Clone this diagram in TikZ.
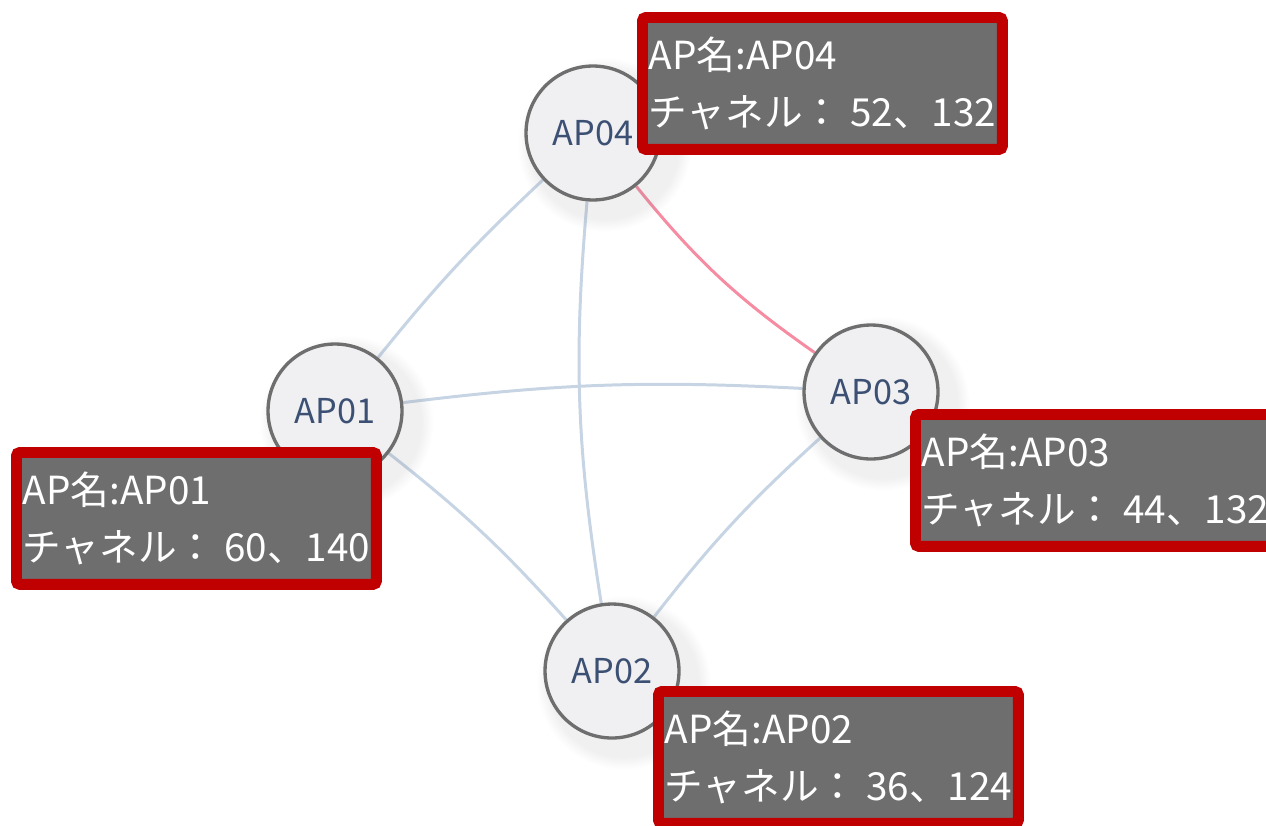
\documentclass[tikz,border=0pt]{standalone}
\usepackage{fontspec}
\newfontfamily\jpfont{Noto Sans CJK JP}
\usetikzlibrary{shadows,backgrounds}
\definecolor{tipred}{RGB}{192,0,0}
\definecolor{tipgray}{RGB}{110,110,110}
\definecolor{apfill}{RGB}{240,240,243}
\definecolor{apline}{RGB}{110,110,110}
\definecolor{aptext}{RGB}{60,80,115}
\definecolor{linkblue}{RGB}{198,212,228}
\definecolor{linkred}{RGB}{245,140,162}
\tikzstyle{ap}=[circle, draw=apline, fill=apfill, line width=1.9pt, minimum size=2.68cm, inner sep=0pt, text=aptext, font=\jpfont\fontsize{19.5}{22}\selectfont, circular drop shadow={shadow xshift=5pt, shadow yshift=-5pt, shadow scale=1.3, opacity=0.12}]
\tikzstyle{tip}=[rectangle, draw=tipred, fill=tipgray, line width=6.2pt, rounded corners=2pt, minimum width=7.2cm, minimum height=2.64cm, text=white, align=left, anchor=north west, font=\jpfont\fontsize{22}{32}\selectfont]
\tikzstyle{link}=[draw=linkblue, line width=1.7pt]
\tikzstyle{hot}=[draw=linkred, line width=1.7pt]

\begin{document}
\begin{tikzpicture}[x=0.02cm, y=-0.02cm]
		\useasboundingbox (0,0) rectangle (1266,825);
		\clip (0,0) rectangle (1266,825);

		\node (ap04) [ap] at (593,133) {AP04};
		\node (ap01) [ap] at (335,411) {AP01};
		\node (ap03) [ap] at (871,392) {AP03};
		\node (ap02) [ap] at (612,671) {AP02};

		\begin{pgfonlayer}{background}
		\draw[link] (ap04) to[bend right=4] (ap01);
		\draw[link] (ap04) to[bend right=7] (ap02);
		\draw[link] (ap01) to[bend left=5] (ap03);
		\draw[link] (ap01) to[bend left=5] (ap02);
		\draw[link] (ap03) to[bend right=5] (ap02);
		\draw[hot] (ap04) to[bend right=8] (ap03);
		\end{pgfonlayer}

		\node (tip04) [tip] at (637,12) {AP名:AP04\\チャネル： 52、132};
		\node (tip01) [tip] at (11,447) {AP名:AP01\\チャネル： 60、140};
		\node (tip03) [tip] at (910,409) {AP名:AP03\\チャネル： 44、132};
		\node (tip02) [tip] at (653,686) {AP名:AP02\\チャネル： 36、124};
\end{tikzpicture}
\end{document}
